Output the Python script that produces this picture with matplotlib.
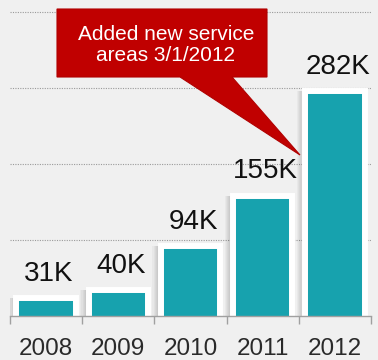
import numpy as np
import matplotlib.pyplot as plt
from matplotlib.patches import Polygon

# yearly totals, in thousands
years = ["2008", "2009", "2010", "2011", "2012"]
totals = [31, 40, 94, 155, 282]
value_labels = ["31K", "40K", "94K", "155K", "282K"]

callout_text = "Added new service\nareas 3/1/2012"

W, H = 378, 360
BG = "#f0f0f0"
TEAL = "#17a2ae"
RED = "#c00000"
AXIS_GRAY = "#a0a0a0"

plt.rcParams["font.family"] = ["Liberation Sans", "DejaVu Sans"]


def px(x, y):
    # pixel position (from top-left) -> figure fraction
    return x / W, 1 - y / H


fig = plt.figure(figsize=(W / 100, H / 100), dpi=100)
fig.patch.set_facecolor(BG)
ax = fig.add_axes([10 / W, 44 / H, 361 / W, 304 / H])
ax.set_facecolor("none")

x = np.arange(len(years))
y_low = 9
y_high = y_low + 304 / 0.825
ax.set_xlim(-0.5, len(years) - 0.5)
ax.set_ylim(y_low, y_high)

# dotted guide lines
step = (y_high - y_low) / 4
for k in range(1, 5):
    ax.axhline(y_low + k * step, ls=(0, (1, 1.2)), color="#9a9a9a",
               lw=0.8, zorder=0, clip_on=False)

# soft shadow down the left side of each bar
for k in range(1, 8):
    ax.bar(x - k * 0.017, totals, width=0.82, color="black",
           alpha=0.03, linewidth=0, zorder=1)

ax.bar(x, totals, width=0.82, color=TEAL, edgecolor="white",
       linewidth=4.3, zorder=3)

for xi, v, lbl in zip(x, totals, value_labels):
    ax.annotate(lbl, (xi, v), xytext=(2, 8), textcoords="offset points",
                ha="center", va="bottom", fontsize=20, color="#111111",
                zorder=4)

for side in ["top", "left", "right"]:
    ax.spines[side].set_visible(False)
ax.spines["bottom"].set_color(AXIS_GRAY)
ax.spines["bottom"].set_linewidth(1.0)
ax.spines["bottom"].set_zorder(5)

ax.set_yticks([])
ax.set_xticks(x, years)
ax.set_xticks(np.arange(-0.5, len(years)), minor=True)
ax.tick_params(axis="x", which="major", length=0, pad=16,
               labelsize=17.5, labelcolor="#2a2a2a")
ax.tick_params(axis="x", which="minor", length=6, width=1.0,
               color=AXIS_GRAY, direction="out")

# red speech-bubble callout pointing at the 2012 bar
bubble = [px(57, 9), px(267, 9), px(267, 77), px(232, 77),
          px(300, 155), px(180, 77), px(57, 77)]
fig.patches.append(Polygon(bubble, closed=True, transform=fig.transFigure,
                           facecolor=RED, edgecolor="#b00000", lw=0.8,
                           zorder=10))
tx, ty = px(166, 45)
fig.text(tx, ty, callout_text, ha="center", va="center", fontsize=15,
         color="white", linespacing=1.17, zorder=11)

fig.savefig("out.png", dpi=100, facecolor=BG)
